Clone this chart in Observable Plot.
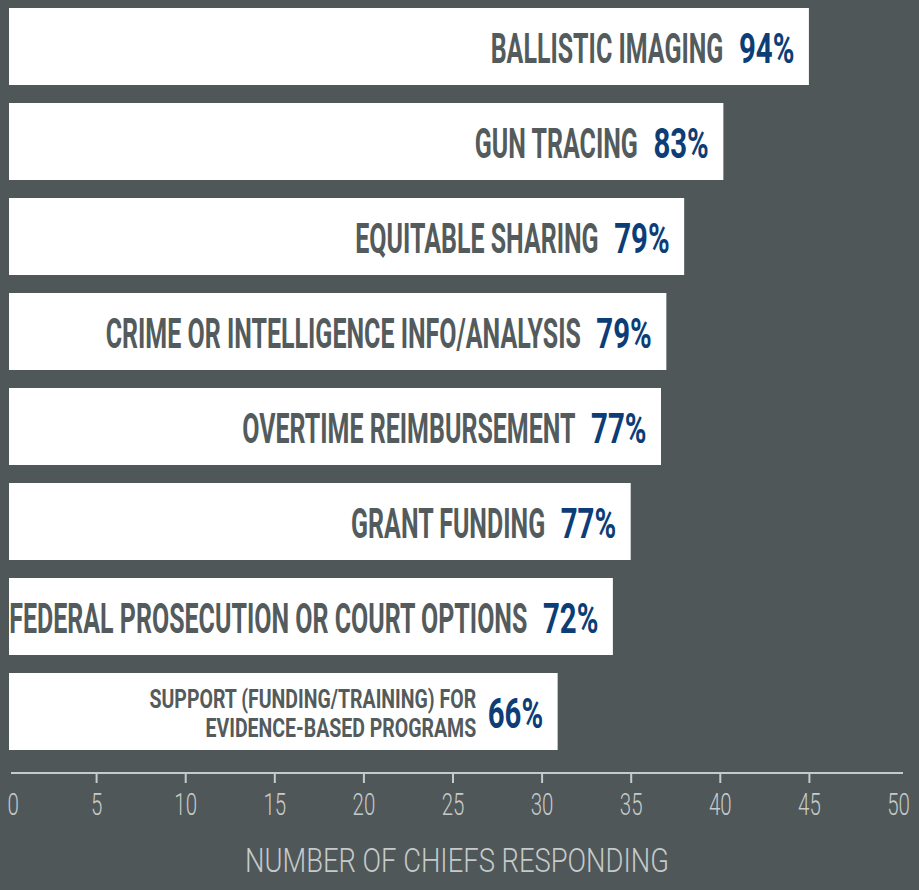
<!DOCTYPE html>
<html><head><meta charset="utf-8">
<script src="https://cdn.jsdelivr.net/npm/d3@7"></script>
<script src="https://cdn.jsdelivr.net/npm/@observablehq/plot@0.6"></script>
<style>html,body{margin:0;padding:0;background:#4f5759;}</style>
</head><body><div id="chart"></div>
<script>
const categories = [
  "Ballistic imaging",
  "Gun tracing",
  "Equitable sharing",
  "Crime or intelligence info/analysis",
  "Overtime reimbursement",
  "Grant funding",
  "Federal prosecution or court options",
  "Support (funding/training) for evidence-based programs"
];
const barLabels = [
  "BALLISTIC IMAGING",
  "GUN TRACING",
  "EQUITABLE SHARING",
  "CRIME OR INTELLIGENCE INFO/ANALYSIS",
  "OVERTIME REIMBURSEMENT",
  "GRANT FUNDING",
  "FEDERAL PROSECUTION OR COURT OPTIONS",
  "SUPPORT (FUNDING/TRAINING) FOR\nEVIDENCE-BASED PROGRAMS"
];
const chiefCounts = [45, 40.2, 38, 37, 36.7, 35, 34, 30.9];
const percents = [94, 83, 79, 79, 77, 77, 72, 66];
const xTickLabels = [0, 5, 10, 15, 20, 25, 30, 35, 40, 45, 50];
const xTickMarks = [5, 10, 15, 20, 25, 30, 35, 40, 45];
const axisTitle = "NUMBER OF CHIEFS RESPONDING";

const rows = categories.map((c, i) => ({category: c, label: barLabels[i], count: chiefCounts[i], pct: percents[i] + "%"}));
const singleLine = rows.filter(d => !d.label.includes("\n"));
const multiLine = rows.filter(d => d.label.includes("\n"));

const BG = "#4f5759", LABEL = "#535b5d", NAVY = "#0c3d77", LIGHT = "#c6caca";

// horizontally condense the text of a mark (the reference uses a condensed face)
function condensed(s) {
  return (index, scales, values, dims, context, next) => {
    const g = next(index, scales, values, dims, context);
    g.querySelectorAll("text").forEach(t => {
      t.setAttribute("transform", (t.getAttribute("transform") || "") + ` scale(${s},1)`);
    });
    return g;
  };
}

function axisLine(index, scales, values, dims) {
  const y = dims.height - dims.marginBottom;
  return d3.create("svg:line")
    .attr("x1", scales.x(0) + 4).attr("x2", scales.x(50) + 5)
    .attr("y1", y).attr("y2", y)
    .attr("stroke", LIGHT).attr("stroke-width", 2).node();
}

const tickText = {frameAnchor: "bottom", lineAnchor: "middle", dy: 32, text: d => String(d),
  fontSize: 31, fontWeight: 300, fontFamily: "Roboto", fill: LIGHT, render: condensed(0.66)};

const chart = Plot.plot({
  width: 919, height: 890,
  marginTop: 8, marginBottom: 117, marginLeft: 7, marginRight: 21,
  style: {background: BG, overflow: "visible", fontFamily: "Roboto"},
  x: {domain: [0, 50], label: null},
  y: {domain: categories, paddingInner: 0.194, paddingOuter: 0.116, align: 0, axis: null},
  marks: [
    Plot.barX(rows, {x: "count", y: "category", fill: "#ffffff", insetLeft: 2}),
    Plot.text(singleLine, {x: "count", y: "category", text: "label", textAnchor: "end", dx: -86, dy: 3,
      fontSize: 42, fontWeight: 700, fontFamily: "Roboto", fill: LABEL, render: condensed(0.595)}),
    Plot.text(multiLine, {x: "count", y: "category", text: "label", textAnchor: "end", dx: -82, dy: 1,
      fontSize: 25, lineHeight: 1.18, fontWeight: 700, fontFamily: "Roboto", fill: LABEL, render: condensed(0.78)}),
    Plot.text(rows, {x: "count", y: "category", text: "pct", textAnchor: "end", dx: -15, dy: 3,
      fontSize: 42, fontWeight: 700, fontFamily: "Roboto", fill: NAVY, render: condensed(0.7)}),
    axisLine,
    Plot.axisX(xTickMarks, {tickSize: 10, tickFormat: () => "", stroke: LIGHT, strokeWidth: 2, label: null}),
    Plot.text(xTickLabels.filter(d => d === 0), {x: d => d, textAnchor: "start", ...tickText}),
    Plot.text(xTickLabels.filter(d => d !== 0), {x: d => d, ...tickText}),
    Plot.text([axisTitle], {frameAnchor: "bottom", lineAnchor: "middle", dy: 88, dx: 4,
      fontSize: 33, fontWeight: 300, fontFamily: "Roboto", fill: LIGHT, render: condensed(0.83)})
  ]
});

document.getElementById("chart").appendChild(chart);
</script>
</body></html>
